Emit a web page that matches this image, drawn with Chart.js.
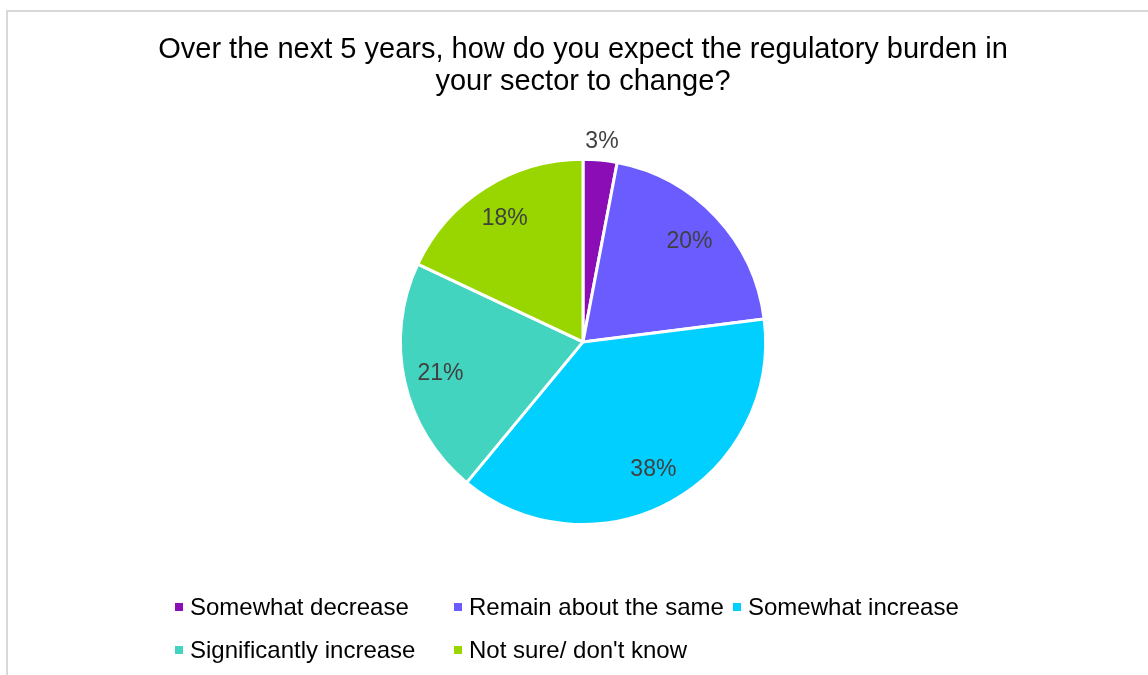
<!DOCTYPE html>
<html>
<head>
<meta charset="utf-8">
<script src="https://cdn.jsdelivr.net/npm/chart.js@4.4.1/dist/chart.umd.min.js"></script>
<style>
  html, body { margin: 0; padding: 0; background: #fff; }
  #wrap { position: relative; width: 1148px; height: 675px; overflow: hidden; }
  #frame {
    position: absolute; left: 6px; top: 10px; width: 1200px; height: 700px;
    border-left: 2px solid #d9d9d9; border-top: 2px solid #d9d9d9;
  }
  canvas { position: absolute; left: 0; top: 0; }
</style>
</head>
<body>
<div id="wrap">
  <div id="frame"></div>
  <canvas id="pieChart" width="1148" height="675"></canvas>
</div>
<script>
const titleLines = ['Over the next 5 years, how do you expect the regulatory burden in', 'your sector to change?'];
const answers = ['Somewhat decrease', 'Remain about the same', 'Somewhat increase', 'Significantly increase', "Not sure/ don't know"];
const shares = [3, 20, 38, 21, 18];
const sliceColors = ['#8a0db6', '#6b5cff', '#00cfff', '#43d4c0', '#99d600'];

const FONT = '"Liberation Sans", Arial, sans-serif';

// percentage labels: inside the slice, or just outside when the slice is thin
const sliceLabels = {
    id: 'sliceLabels',
    afterDatasetsDraw(chart) {
        const ctx = chart.ctx;
        const meta = chart.getDatasetMeta(0);
        ctx.save();
        ctx.font = '23px ' + FONT;
        ctx.fillStyle = '#404040';
        ctx.textAlign = 'center';
        ctx.textBaseline = 'middle';
        meta.data.forEach((arc, i) => {
            const p = arc.getProps(['x', 'y', 'startAngle', 'endAngle', 'outerRadius']);
            const mid = (p.startAngle + p.endAngle) / 2;
            const r = shares[i] < 5 ? p.outerRadius + 19 : p.outerRadius * 0.8;
            ctx.fillText(shares[i] + '%', p.x + Math.cos(mid) * r, p.y + Math.sin(mid) * r);
        });
        ctx.restore();
    }
};

// legend laid out in fixed columns, wrapping after three entries
const gridLegend = {
    id: 'gridLegend',
    afterDraw(chart) {
        const ctx = chart.ctx;
        const area = chart.chartArea;
        const colLeft = 175, colWidth = 279, perRow = 3;
        const firstRow = area.bottom + 81, rowGap = 43;
        ctx.save();
        ctx.font = '24px ' + FONT;
        ctx.textBaseline = 'middle';
        chart.data.labels.forEach((label, i) => {
            const x = colLeft + (i % perRow) * colWidth;
            const y = firstRow + Math.floor(i / perRow) * rowGap;
            ctx.fillStyle = chart.data.datasets[0].backgroundColor[i];
            ctx.fillRect(x, y - 4, 8, 8);
            ctx.fillStyle = '#000';
            ctx.fillText(label, x + 15, y + 1);
        });
        ctx.restore();
    }
};

const ctx = document.getElementById('pieChart').getContext('2d');
new Chart(ctx, {
    type: 'pie',
    data: {
        labels: answers,
        datasets: [{
            data: shares,
            backgroundColor: sliceColors,
            borderColor: '#ffffff',
            borderWidth: 3
        }]
    },
    options: {
        responsive: false,
        animation: false,
        rotation: 0,
        layout: {
            padding: { left: 18, right: 0, top: 0, bottom: 149 }
        },
        plugins: {
            title: {
                display: true,
                text: titleLines,
                color: '#000',
                font: { family: FONT, size: 29, weight: 'normal', lineHeight: 1.1 },
                padding: { top: 34, bottom: 60 }
            },
            legend: { display: false },
            tooltip: { enabled: false }
        }
    },
    plugins: [sliceLabels, gridLegend]
});
</script>
</body>
</html>
